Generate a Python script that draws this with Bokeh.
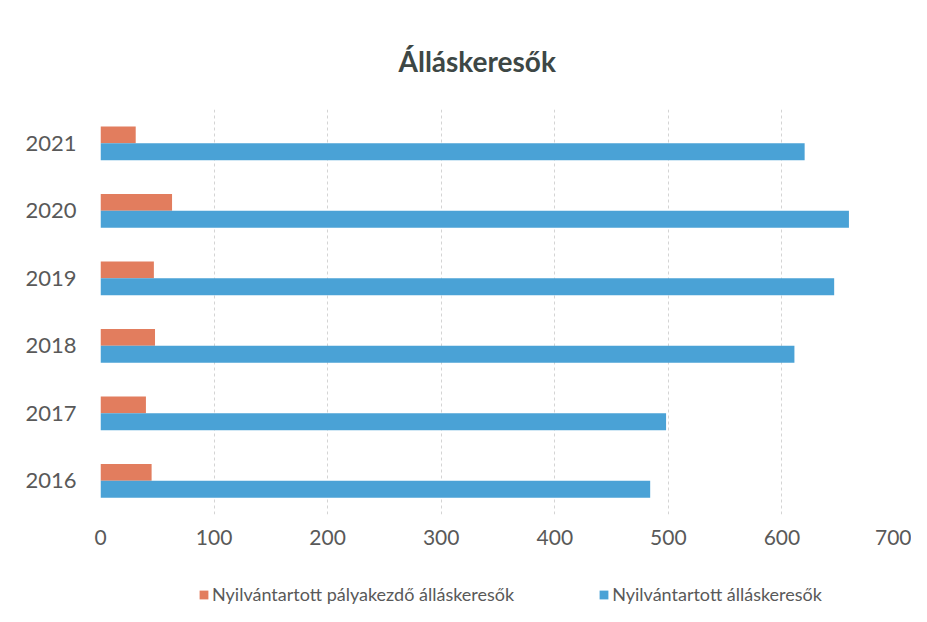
from bokeh.plotting import figure
from bokeh.models import ColumnDataSource, FactorRange, Range1d, Legend, LegendItem, FixedTicker
from bokeh.transform import dodge
from bokeh.layouts import column
from bokeh.embed import file_html
from bokeh.resources import INLINE

years = ["2016", "2017", "2018", "2019", "2020", "2021"]
palyakezdo = [45, 40, 48, 47, 63, 31]
osszes = [484, 498, 611, 646, 659, 620]
x_ticks = [0, 100, 200, 300, 400, 500, 600, 700]

title_text = "Álláskeresők"
name_a = "Nyilvántartott pályakezdő álláskeresők"
name_b = "Nyilvántartott álláskeresők"

src = ColumnDataSource(dict(year=years, a=palyakezdo, b=osszes))

FONT = "Lato"
TXT = "#595959"
C_A = "#E27D5E"
C_B = "#4AA2D6"

p = figure(frame_width=795, frame_height=405, output_backend="svg", toolbar_location=None,
           y_range=FactorRange(factors=years), x_range=Range1d(0, 700),
           min_border_left=100, min_border_right=16, min_border_top=109, min_border_bottom=46)
p.outline_line_color = None

p.title.text = title_text
p.title.align = "left"
p.title.offset = 298
p.title.text_font = FONT
p.title.text_font_style = "bold"
p.title.text_font_size = "28px"
p.title.text_color = "#3d4745"
p.title.standoff = 64

p.hbar(y=dodge("year", 0.125, range=p.y_range), right="a", left=0, height=0.25,
       source=src, color=C_A, line_color=None)
p.hbar(y=dodge("year", -0.125, range=p.y_range), right="b", left=0, height=0.25,
       source=src, color=C_B, line_color=None)

p.xaxis.ticker = FixedTicker(ticks=x_ticks)
for ax in (p.xaxis[0], p.yaxis[0]):
    ax.axis_line_color = None
    ax.major_tick_line_color = None
    ax.minor_tick_line_color = None
    ax.major_label_text_font = FONT
    ax.major_label_text_color = TXT
p.xaxis.major_label_text_font_size = "21px"
p.yaxis.major_label_text_font_size = "22px"
p.xaxis.major_label_standoff = 9
p.yaxis.major_label_standoff = 18

p.ygrid.grid_line_color = None
p.xgrid.grid_line_color = "#d4d4d4"
p.xgrid.grid_line_dash = "3 3"

# legend strip below the chart (its renderers lie outside the strip's visible range)
q = figure(frame_width=911, frame_height=62, output_backend="svg", toolbar_location=None,
           x_range=Range1d(0, 1), y_range=Range1d(0, 1),
           min_border_left=0, min_border_right=0, min_border_top=0, min_border_bottom=0)
q.axis.visible = False
q.grid.visible = False
q.outline_line_color = None
la = q.hbar(y="a", left="a", right="a", height=0, source=src, color=C_A, line_color=None)
lb = q.hbar(y="b", left="b", right="b", height=0, source=src, color=C_B, line_color=None)

legend = Legend(items=[LegendItem(label=name_a, renderers=[la]),
                       LegendItem(label=name_b, renderers=[lb])],
                orientation="horizontal", location=(198, 17),
                label_text_font=FONT, label_text_font_size="18px", label_text_color=TXT,
                glyph_width=11, glyph_height=11, label_standoff=3, spacing=84,
                border_line_color=None, background_fill_alpha=0, margin=0, padding=4)
q.add_layout(legend, "center")

open("out.html", "w").write(file_html(column(p, q, spacing=0), INLINE))
